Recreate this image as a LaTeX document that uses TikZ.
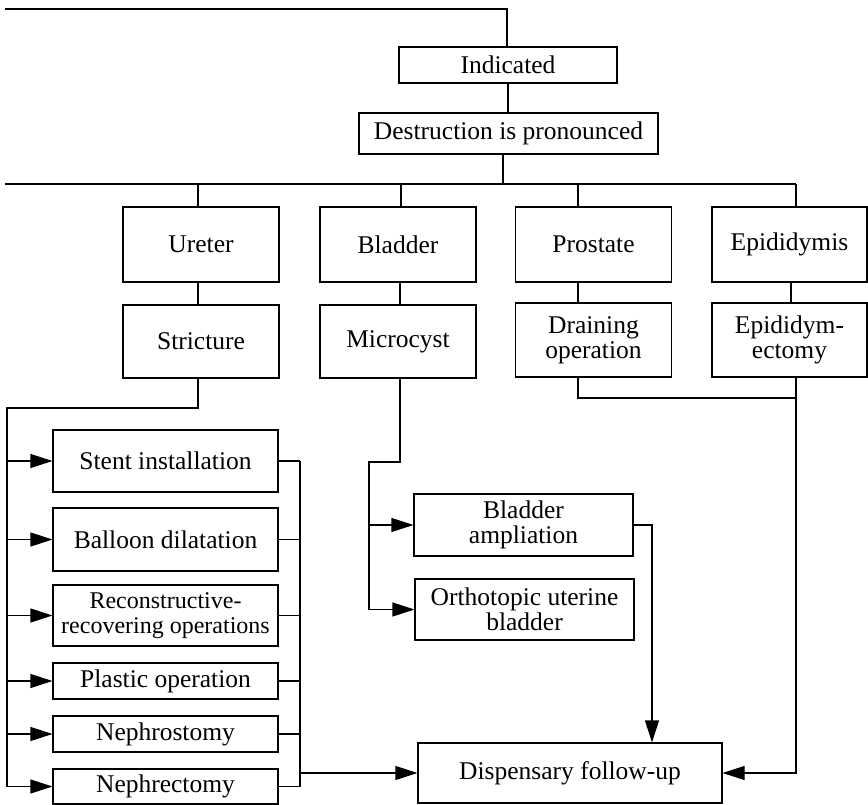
\documentclass[tikz,border=0pt]{standalone}
\usepackage{fontspec}
\setmainfont{Liberation Serif}
\usetikzlibrary{arrows.meta}
\begin{document}
\begin{tikzpicture}[x=1pt,y=-1pt,
  line width=1.15pt,
  box/.style={draw, rectangle, inner sep=0pt, align=center,
    font=\fontsize{25.5}{25}\selectfont},
  arr/.style={-{Triangle[length=22pt,width=14pt]}},
  ]
\useasboundingbox (0,0) rectangle (868,805);

% upper chain
\node[box, minimum width=218pt, minimum height=36pt] (ind) at (508,65) {Indicated};
\node[box, minimum width=299pt, minimum height=41pt] (destr) at (508.5,133.5) {Destruction is pronounced};

% organ row
\node[box, minimum width=156pt, minimum height=75pt] (ureter) at (201,244.5) {Ureter};
\node[box, minimum width=156pt, minimum height=75pt] (bladder) at (398,244.5) {Bladder};
\node[box, minimum width=156pt, minimum height=75pt] (prost) at (593.5,244.5) {Prostate};
\node[box, minimum width=155pt, minimum height=75pt] (epid) at (789.5,244.5) {Epididymis};

% findings / operations row
\node[box, minimum width=156pt, minimum height=73pt] (strict) at (201,341.5) {Stricture};
\node[box, minimum width=156pt, minimum height=73pt] (micro) at (398,341.5) {Microcyst};
\node[box, minimum width=156pt, minimum height=74pt] (drain) at (593.5,340) {Draining\\operation};
\node[box, minimum width=155pt, minimum height=74pt] (epidect) at (789.5,340) {Epididym-\\ectomy};

% stricture treatments
\node[box, minimum width=225pt, minimum height=62pt] (stent) at (165.5,461) {Stent installation};
\node[box, minimum width=225pt, minimum height=63pt] (balloon) at (165.5,539.5) {Balloon dilatation};
\node[box, minimum width=225pt, minimum height=61pt, font=\fontsize{24}{25}\selectfont] (recon) at (165.5,615.5) {Reconstructive-\\recovering operations};
\node[box, minimum width=225pt, minimum height=36pt] (plastic) at (165.5,681) {Plastic operation};
\node[box, minimum width=225pt, minimum height=36pt] (nstomy) at (165.5,734) {Nephrostomy};
\node[box, minimum width=225pt, minimum height=35pt] (nectomy) at (165.5,786.5) {Nephrectomy};

% microcyst treatments
\node[box, minimum width=219pt, minimum height=62pt] (ampl) at (523.5,525) {Bladder\\ampliation};
\node[box, minimum width=219pt, minimum height=61pt] (ortho) at (524.5,609.5) {Orthotopic uterine\\bladder};

% final
\node[box, minimum width=304pt, minimum height=60pt] (disp) at (570,773) {Dispensary follow-up};

% top feed
\coordinate (topL) at (5,9);
\coordinate (topR) at (507,9);
\draw (topL) -- (topR) -- (topR |- ind.north);
\draw (ind.south) -- (ind.south |- destr.north);

% distribution bus
\coordinate (busL) at (5,184);
\coordinate (busR) at (796,184);
\coordinate (busD) at (503,184);
\coordinate (b1) at (198,184);
\coordinate (b2) at (401,184);
\coordinate (b3) at (578,184);
\draw (busD |- destr.south) -- (busD);
\draw (busL) -- (busR);
\draw (b1) -- (b1 |- ureter.north);
\draw (b2) -- (b2 |- bladder.north);
\draw (b3) -- (b3 |- prost.north);
\draw (busR) -- (busR |- epid.north);

% organ to finding
\coordinate (c1) at (198,282);
\coordinate (c2) at (400,282);
\coordinate (c3) at (578,282);
\coordinate (c4) at (791,282);
\draw (c1) -- (c1 |- strict.north);
\draw (c2) -- (c2 |- micro.north);
\draw (c3) -- (c3 |- drain.north);
\draw (c4) -- (c4 |- epidect.north);

% stricture branch
\coordinate (sb) at (198,408);
\coordinate (lv) at (7,408);
\coordinate (lvB) at (7,787);
\draw (sb |- strict.south) -- (sb) -- (lv) -- (lvB);
\foreach \n in {stent,balloon,recon,plastic,nstomy,nectomy}
  \draw[arr] (lv |- \n.west) -- (\n.west);

% collector on the right of the treatments
\coordinate (rvx) at (300,0);
\draw (rvx |- stent.east) -- (rvx |- nectomy.east);
\foreach \n in {stent,balloon,recon,plastic,nstomy,nectomy}
  \draw (\n.east) -- (rvx |- \n.east);
\draw[arr] (rvx |- disp.west) -- (disp.west);

% microcyst branch
\coordinate (mb) at (400,462);
\coordinate (mv) at (369,462);
\draw (mb |- micro.south) -- (mb) -- (mv) -- (mv |- ortho.west);
\draw[arr] (mv |- ampl.west) -- (ampl.west);
\draw[arr] (mv |- ortho.west) -- (ortho.west);

% ampliation to follow-up
\coordinate (av) at (652,525);
\draw[arr] (ampl.east) -- (av) -- (av |- disp.north);

% draining and epididymectomy to follow-up
\coordinate (dj) at (578,398);
\coordinate (ev) at (796,398);
\draw (dj |- drain.south) -- (dj) -- (ev);
\draw[arr] (ev |- epidect.south) -- (ev |- disp.east) -- (disp.east);
\end{tikzpicture}
\end{document}
